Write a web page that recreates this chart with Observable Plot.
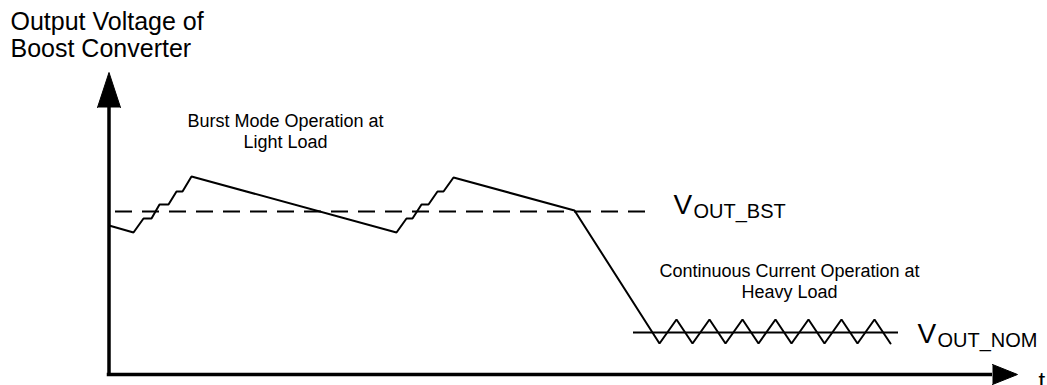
<!DOCTYPE html>
<html><head><meta charset="utf-8">
<script src="https://cdn.jsdelivr.net/npm/d3@7"></script>
<script src="https://cdn.jsdelivr.net/npm/@observablehq/plot@0.6"></script>
<style>html,body{margin:0;padding:0;background:#fff;overflow:hidden}</style>
</head><body><div id="chart"></div>
<script>
// Burst-mode waveform at light load (time, output voltage; arbitrary units)
const burstTime = [0, 24.5, 34.5, 42.5, 50.5, 59.5, 67.5, 73.5, 82.5, 287.5, 297.5, 303.5, 312.5, 319.5, 328.5, 334.5, 344.5, 465.5];
const burstVolt = [149, 142, 156, 156, 170, 170, 183, 183, 198, 142, 156, 156, 170, 170, 183, 183, 197, 164];
// Continuous-current ripple at heavy load
const rippleTime = [550.5, 567.5, 583.5, 600.5, 616.5, 633.5, 649.5, 666.5, 682.5, 699.5, 715.5, 732.5, 748.5, 765.5, 781.5];
const rippleVolt = [31, 55, 31, 55, 31, 55, 31, 55, 31, 55, 31, 55, 31, 55, 31];
// Reference levels
const levelNames = ["OUT_BST", "OUT_NOM"];
const levelVolt = [163, 42];
const levelStart = [6.5, 524.5];
const levelEnd = [539.5, 789.5];
// Axis extents
const timeMax = 883.5, voltMax = 267;
const yHeadTime = [-11.5, 0, 11.5], yHeadVolt = [267, 302, 267];
const xHeadTime = [883.5, 908.5, 883.5], xHeadVolt = [10, 0, -10];
// Texts
const titleText = "Output Voltage of\nBoost Converter";
const noteText = ["Burst Mode Operation at\nLight Load", "Continuous Current Operation at\nHeavy Load"];
const noteTime = [176.5, 680.5];
const noteVolt = [227, 77];
const labelTime = [564.5, 808.5];
const labelVolt = [161, 32];

const wave = [
  ...burstTime.map((t, i) => ({t, v: burstVolt[i]})),
  ...rippleTime.map((t, i) => ({t, v: rippleVolt[i]}))
];
const levels = levelNames.map((name, i) => ({name, v: levelVolt[i], t1: levelStart[i], t2: levelEnd[i], lt: labelTime[i], lv: labelVolt[i]}));
const notes = noteText.map((text, i) => ({text, t: noteTime[i], v: noteVolt[i]}));
const font = "Liberation Sans, Arial, sans-serif";

const chart = Plot.plot({
  width: 1047, height: 385,
  margin: 0,
  style: {fontFamily: font, background: "#fff", color: "#000"},
  x: {domain: [-108.5, 938.5], range: [0, 1047], axis: null},
  y: {domain: [-11, 374], range: [385, 0], axis: null},
  marks: [
    // axes
    Plot.ruleX([0], {y1: -1.75, y2: voltMax, stroke: "#000", strokeWidth: 3.5}),
    Plot.ruleY([0], {x1: -1.75, x2: timeMax, stroke: "#000", strokeWidth: 3.5}),
    Plot.line(yHeadTime.map((t, i) => ({t, v: yHeadVolt[i]})), {x: "t", y: "v", fill: "#000", stroke: "#000", strokeWidth: 1, strokeLinejoin: "miter"}),
    Plot.line(xHeadTime.map((t, i) => ({t, v: xHeadVolt[i]})), {x: "t", y: "v", fill: "#000", stroke: "#000", strokeWidth: 1, strokeLinejoin: "miter"}),
    // reference levels
    Plot.ruleY(levels.slice(0, 1), {y: "v", x1: "t1", x2: "t2", stroke: "#000", strokeWidth: 2, strokeDasharray: "17,10", strokeLinecap: "butt"}),
    Plot.ruleY(levels.slice(1), {y: "v", x1: "t1", x2: "t2", stroke: "#000", strokeWidth: 2}),
    // waveform
    Plot.line(wave, {x: "t", y: "v", stroke: "#000", strokeWidth: 2, strokeLinejoin: "miter"}),
    // texts
    Plot.text([titleText], {x: -98.5, y: 318, text: d => d, textAnchor: "start", lineAnchor: "bottom", lineHeight: 1.08, fontSize: 25, fill: "#000"}),
    Plot.text(notes, {x: "t", y: "v", text: "text", textAnchor: "middle", lineAnchor: "bottom", lineHeight: 1.12, fontSize: 18, fill: "#000"}),
    Plot.text(levels, {x: "lt", y: "lv", text: () => "V", textAnchor: "start", lineAnchor: "bottom", fontSize: 28, fill: "#000"}),
    Plot.text(levels, {x: "lt", y: d => d.lv - 4, text: "name", dx: 20, textAnchor: "start", lineAnchor: "bottom", fontSize: 20, fill: "#000"}),
    Plot.text(["t"], {x: 929.5, y: -14, text: d => d, textAnchor: "start", lineAnchor: "bottom", fontSize: 24, fill: "#000"})
  ]
});
document.getElementById("chart").appendChild(chart);
</script>
</body></html>
